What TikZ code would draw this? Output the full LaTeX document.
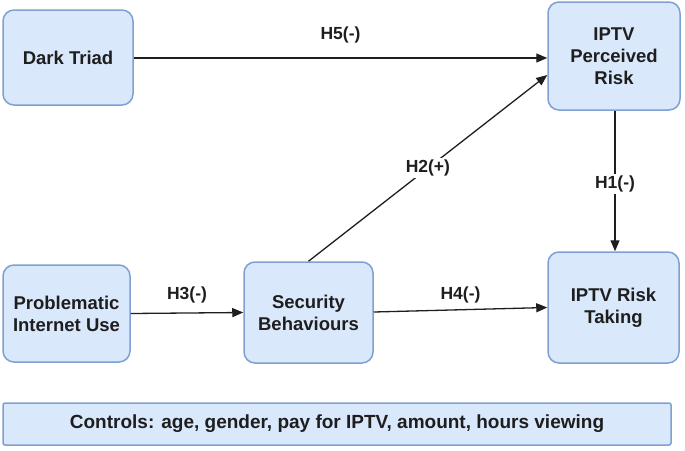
\documentclass[tikz,border=0pt]{standalone}
\usepackage{fontspec}
\setmainfont{Liberation Sans}
\usetikzlibrary{arrows.meta,calc}
\definecolor{boxfill}{HTML}{DAE8FC}
\definecolor{boxline}{HTML}{7EA1D2}
\definecolor{txt}{HTML}{1E1E1E}
\definecolor{arr}{HTML}{1E1E1E}
\tikzset{
  varbox/.style={draw=boxline, fill=boxfill, line width=1.5pt, rounded corners=11pt,
    align=center, text=txt, font=\fontsize{18.5}{22}\selectfont\bfseries, inner sep=0pt},
  ctrlbox/.style={draw=boxline, fill=boxfill, line width=1.5pt, rounded corners=2pt,
    align=center, text=txt, font=\fontsize{19}{22}\selectfont\bfseries, inner sep=0pt},
  link/.style={draw=arr, line width=1.3pt, -{Triangle[length=11pt,width=9pt]}},
  hlab/.style={text=txt, font=\fontsize{17.5}{20}\selectfont\bfseries, inner sep=1pt},
  hlabon/.style={hlab, fill=white, inner sep=2pt},
}
\begin{document}
\begin{tikzpicture}[x=1pt,y=-1pt]
\useasboundingbox (0,0) rectangle (685,450);
\node[varbox, minimum width=130pt, minimum height=95pt] (dt) at (68,57.5) {Dark Triad};
\node[varbox, minimum width=132pt, minimum height=108pt] (pr) at (614,56) {IPTV\\Perceived\\Risk};
\node[varbox, minimum width=127pt, minimum height=97pt] (piu) at (66.5,313.5) {Problematic\\Internet Use};
\node[varbox, minimum width=129pt, minimum height=101pt] (sb) at (308.5,312.5) {Security\\Behaviours};
\node[varbox, minimum width=131pt, minimum height=111pt] (rt) at (613.5,307.5) {IPTV Risk\\Taking};
\node[ctrlbox, minimum width=668pt, minimum height=42pt] (ctrl) at (337,424) {Controls: age, gender, pay for IPTV, amount, hours viewing};

\coordinate (dtout) at ($(dt.east)+(0,0.5)$);
\draw[link] (dtout) -- (dtout -| pr.west) node[hlab, midway, yshift=23pt] {H5(-)};
\coordinate (prin) at ($(pr.west)+(0,19)$);
\draw[link] (sb.north) -- (prin) node[hlabon, midway] {H2(+)};
\coordinate (prout) at ($(pr.south)+(1,0)$);
\draw[link] (prout) -- (prout |- rt.north) node[hlabon, pos=0.52] {H1(-)};
\draw[link] (piu.east) -- (sb.west) node[hlab, midway, yshift=18pt] {H3(-)};
\coordinate (sbout) at ($(sb.east)+(0,-0.5)$);
\coordinate (rtin) at ($(rt.west)+(0,0)$);
\draw[link] (sbout) -- (rtin) node[hlab, midway, yshift=15pt] {H4(-)};
\end{tikzpicture}
\end{document}
